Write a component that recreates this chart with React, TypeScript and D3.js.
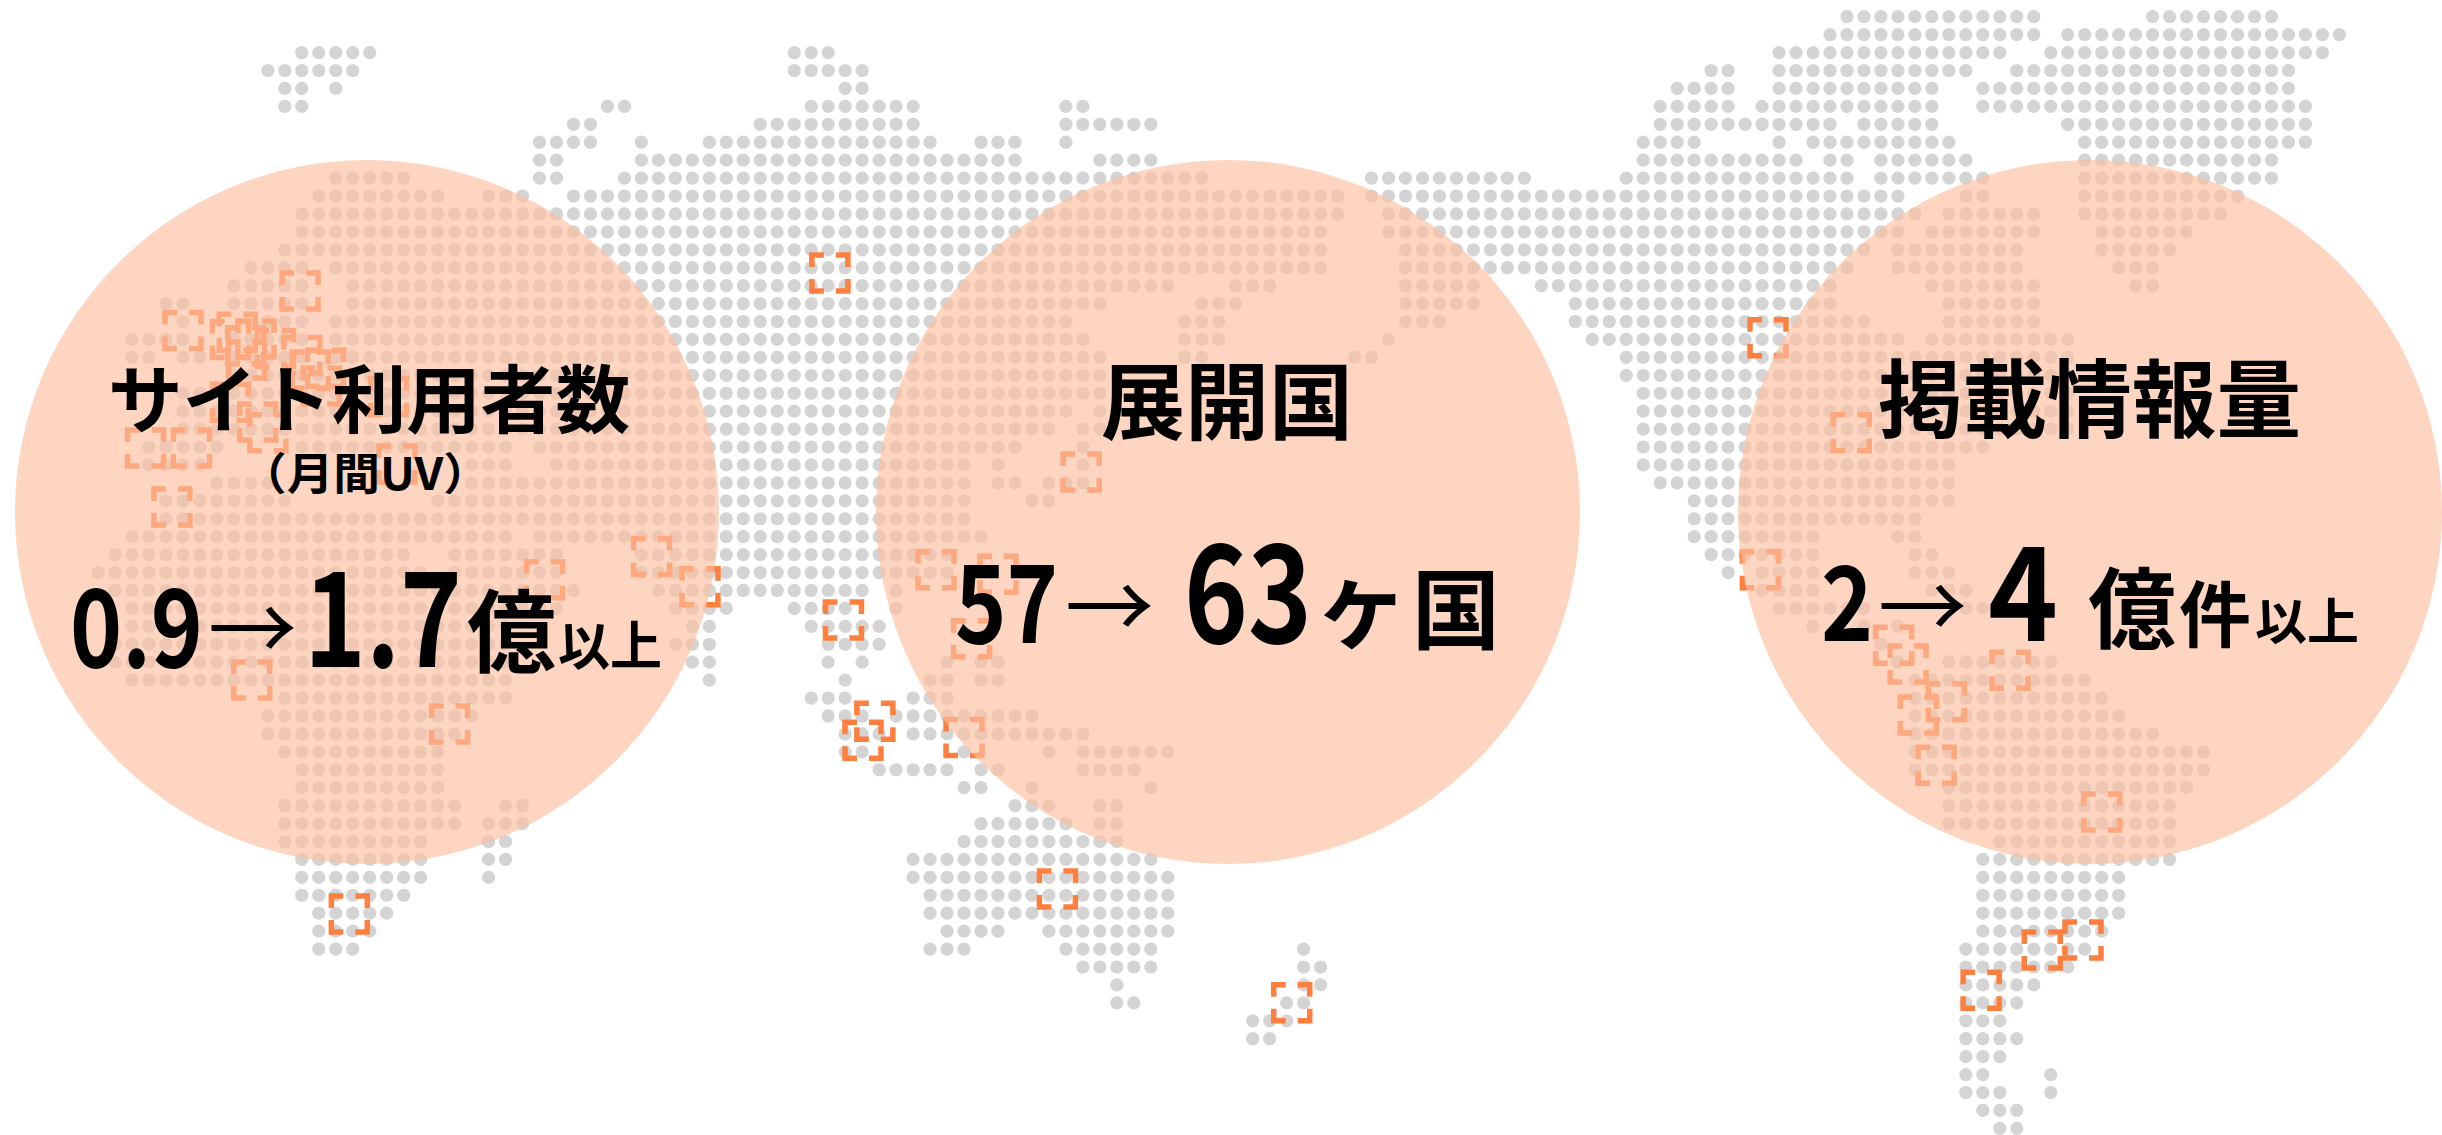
import React from "react";
import * as d3 from "d3";

const WIDTH = 2442;
const HEIGHT = 1135;

// Land cells of the dot map: one entry per row, as runs of column numbers.
const mapRows: string[] = [
  "106-117,124-131",
  "105-117,119-135",
  "15-19,44-46,102-115,118-134",
  "13-18,44-48,98-99,102-113,116-132",
  "14-15,17,47-48,96-99,102-111,114-132",
  "14-15,33-34,45-51,60-61,95-99,101-111,114-133",
  "31-32,42-51,60-65,95-105,107-111,119-133",
  "29-32,35,39-52,55-57,60,94-97,102,104-112,120-133",
  "29-30,35-57,62-65,94-103,105-106,108-113,120-131",
  "17-21,29-30,34-68,78-87,93-106,108-114,120-131",
  "16-23,26-28,31-76,78-109,113-114,120-129",
  "15-76,79-110,112-117,120-128",
  "15-75,79-109,111-117,121-126",
  "14-75,80-107,109-116,121-125",
  "12-15,17-75,80-106,109-116,122-124",
  "11-15,18-66,70-72,80-84,88-105,111-117,123-124",
  "7-8,11-15,18-62,68-70,80-84,90-105,112-117",
  "8,12-15,17-60,67-69,80-82,90-107,112-117",
  "5-8,11-15,17-61,67-69,79,91-109,111-119",
  "5-6,8-9,11-15,17-62,67-68,77-78,93-119",
  "11-62,93-119",
  "8-9,11-62,94-119",
  "8-60,62-63,94-119",
  "8-59,61-62,94-119",
  "6-10,15-27,29-57,61,94-114",
  "6-9,25-27,30-54,56,61,94-112",
  "10-13,25-54,56-57,59-61,95-112",
  "7-14,23-54,58-59,97-112",
  "7-54,97-110",
  "5-27,29-55,97-104,109-110",
  "4-21,24-30,35-53,98-104,110-111",
  "3-22,24-30,35-53,99,101-104,110-112",
  "4-24,25-31,36-48,50,101-104,111-113",
  "5-30,37-40,44-47,50,102-107,113-114",
  "5-27,38-39,45-49,104,107,109",
  "4-27,37-39,46-49,108",
  "4-27,38-39,46,48,53,55-56,109,112-118",
  "5-27,39,47,52-53,55-56,110-120",
  "14-27,45-47,51-53,110-121",
  "13-25,46-48,50-58,110-122",
  "13-24,47-49,51-61,110-124",
  "14-23,47-48,54,59,61-66,110-127",
  "15-23,49-53,55-56,61-64,110-127",
  "15-23,54-55,58,65,112-126",
  "14-24,27-28,57-59,62-63,112-125",
  "14-24,26-28,55-60,62-63,112-125",
  "14-22,26-27,54-63,115-125",
  "15-22,26-27,51-65,114-125",
  "15-22,26,51-66,114-122",
  "15-21,52-66,114-122",
  "16-20,52-66,114-122",
  "16-19,53-56,59-66,114-121",
  "16-18,52-54,60-65,74,113-120",
  "61-65,74-75,113-119",
  "63,74-75,113-117",
  "63-64,73-74,113-116",
  "71-73,113-115",
  "71-72,113-116",
  "113-115",
  "113-114,118",
  "113-115,118",
  "114-116",
  "115-116",
];

// Highlighted places on the map, as [column, row] on the same grid.
const markers: [number, number][] = [
  [14.9, 15.3], [8.0, 17.5], [5.8, 24.05], [8.5, 24.05], [7.35, 27.35], [20.6, 24.95], [20.1, 21.2],
  [11.2, 17.6], [12.3, 17.97], [11.7, 18.35], [11.75, 19.15], [13.45, 18.5], [15, 18.9], [16.4, 19.6],
  [15.5, 19.7], [16.15, 20.6], [12.4, 22.6], [13, 23.2], [10.8, 21.5], [10.8, 18],
  [35.6, 30.1], [29.3, 31.4], [38.45, 31.8], [12.05, 37], [23.7, 39.45], [17.8, 50.05],
  [46.1, 14.3], [60.9, 25.4], [52.35, 30.85], [56, 31.1], [46.9, 33.65], [54.45, 34.7], [48.75, 39.3],
  [48.05, 40.35], [54, 40.2], [59.5, 48.65], [73.3, 55],
  [101.35, 17.9], [106.25, 23.2], [100.9, 30.85], [108.75, 35.05], [109.6, 36.1], [115.6, 36.45],
  [111.85, 38.2], [110.2, 38.95], [111.25, 41.75], [121, 44.35], [119.9, 51.5], [117.5, 52.05], [113.9, 54.3],
];

const circleCentersX = [367, 1228, 2090];

// [text, left, right, baseline, font size, weight]
type Piece = [string, number, number, number, number, number];
const labelPieces: Piece[] = [
  ["サイト利用者数", 108, 630, 427, 74, 700],
  ["（月間UV）", 240, 490, 490, 44, 700],
  ["0.9", 70, 203, 667, 108, 700],
  ["→", 208, 297, 661, 89, 400],
  ["1.7", 304, 462, 667, 132, 700],
  ["億", 467, 556, 665, 90, 700],
  ["以上", 558, 662, 665, 52, 700],
  ["展開国", 1101, 1353, 433, 84, 700],
  ["57", 955, 1058, 643, 108, 700],
  ["→", 1065, 1154, 639, 89, 400],
  ["63", 1184, 1312, 643, 136, 700],
  ["ヶ", 1315, 1408, 640, 95, 700],
  ["国", 1412, 1500, 642, 88, 700],
  ["掲載情報量", 1878, 2301, 431, 85, 700],
  ["2", 1821, 1873, 641, 104, 700],
  ["→", 1878, 1967, 639, 89, 400],
  ["4", 1988, 2058, 641, 130, 700],
  ["億", 2088, 2176, 641, 88, 700],
  ["件", 2179, 2251, 641, 72, 700],
  ["以上", 2255, 2359, 640, 50, 700],
];

const x = d3.scaleLinear().domain([0, 1]).range([47.1, 47.1 + 16.98]);
const y = d3.scaleLinear().domain([0, 1]).range([16.7, 16.7 + 17.93]);

const cells: [number, number][] = mapRows.flatMap((row, r) =>
  row.split(",").flatMap((run) => {
    const [a, b] = run.split("-").map(Number);
    return d3.range(a, (b ?? a) + 1).map((c) => [c, r] as [number, number]);
  })
);

function bracketPath(cx: number, cy: number, half = 18, arm = 12) {
  const p = d3.path();
  [[-1, -1], [1, -1], [1, 1], [-1, 1]].forEach(([sx, sy]) => {
    p.moveTo(cx + sx * half, cy + sy * (half - arm));
    p.lineTo(cx + sx * half, cy + sy * half);
    p.lineTo(cx + sx * (half - arm), cy + sy * half);
  });
  return p.toString();
}

export default function App() {
  return (
    <svg
      width={WIDTH}
      height={HEIGHT}
      viewBox={`0 0 ${WIDTH} ${HEIGHT}`}
      style={{ position: "absolute", left: 0, top: 0, display: "block", background: "#fff" }}
      fontFamily="'Noto Sans CJK JP', 'Noto Sans', sans-serif"
    >
      <g fill="#d4d4d4">
        {cells.map(([c, r]) => (
          <circle key={`${c}-${r}`} cx={x(c)} cy={y(r)} r={6.6} />
        ))}
      </g>
      <g fill="none" stroke="#ff7f3f" strokeWidth={5.5}>
        {markers.map(([c, r], i) => (
          <path key={i} d={bracketPath(x(c), y(r))} />
        ))}
      </g>
      <g fill="#fcbf9f" fillOpacity={0.65}>
        {circleCentersX.map((cx) => (
          <circle key={cx} cx={cx} cy={512} r={352} />
        ))}
      </g>
      <g fill="#000">
        {labelPieces.map(([t, l, rt, base, size, weight], i) => (
          <text
            key={i}
            x={l}
            y={base}
            fontSize={size}
            fontWeight={weight}
            textLength={rt - l}
            lengthAdjust="spacingAndGlyphs"
          >
            {t}
          </text>
        ))}
      </g>
    </svg>
  );
}
